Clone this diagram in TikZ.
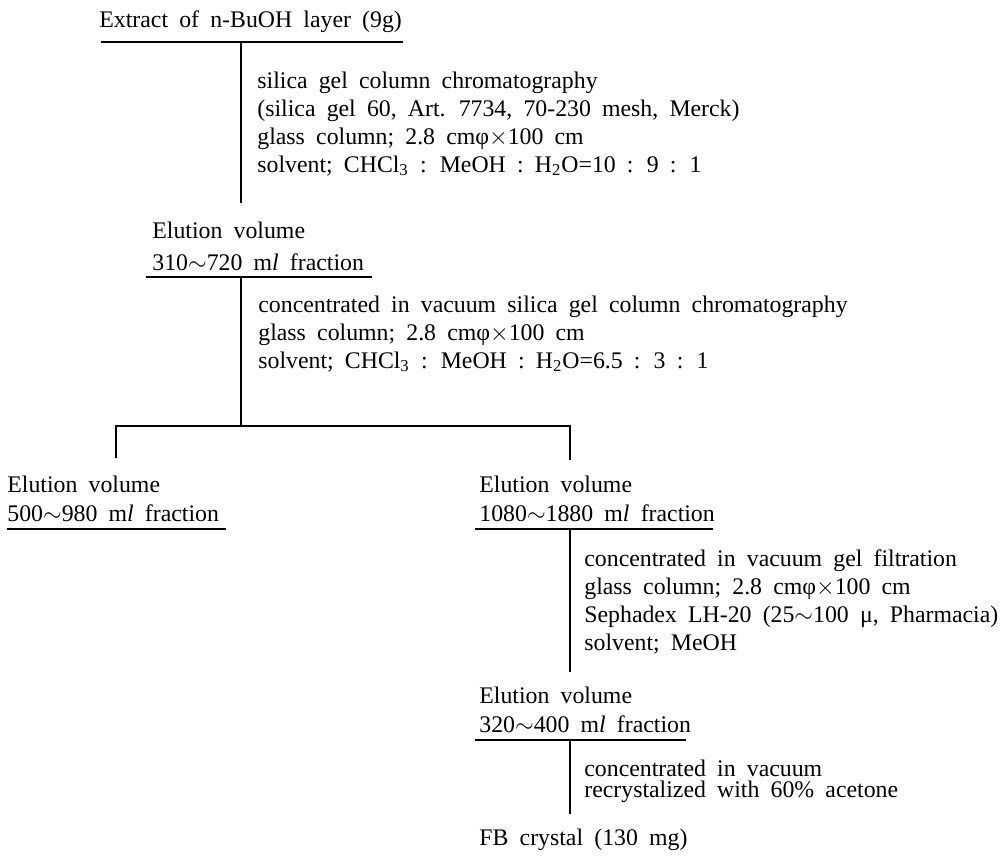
\documentclass[tikz,border=0pt]{standalone}
\usepackage{fontspec}
\setmainfont{Liberation Serif}[WordSpace={1.88,1,1}]
\usetikzlibrary{positioning}

\begin{document}
\begin{tikzpicture}[x=0.5pt, y=-0.5pt,
  txt/.style={anchor=base west, inner sep=0pt, align=left,
              font=\fontsize{11.9}{14}\selectfont},
  tighttxt/.style={txt, font=\fontsize{11.9}{10.5}\selectfont},
  ln/.style={line width=0.7pt, black},
]
\useasboundingbox (0,0) rectangle (1002,857);

% Start (multi-line nodes sit on their last baseline)
\node[txt] at (99,27)   (extract) {Extract of n-BuOH layer (9g)};
\node[txt] at (257,172) (silica1) {silica gel column chromatography\\
  (silica gel 60, Art. 7734, 70-230 mesh, Merck)\\
  glass column; 2.8 cmφ$\times$100 cm\\
  solvent; CHCl\textsubscript{3} : MeOH : H\textsubscript{2}O=10 : 9 : 1};

% First fraction
\node[txt] at (152,238) (elu1)  {Elution volume};
\node[txt] at (152,270) (frac1) {310$\sim$720 m\textit{l} fraction};
\node[txt] at (258,368) (silica2) {concentrated in vacuum silica gel column chromatography\\
  glass column; 2.8 cmφ$\times$100 cm\\
  solvent; CHCl\textsubscript{3} : MeOH : H\textsubscript{2}O=6.5 : 3 : 1};

% Two fractions
\node[txt] at (7,492)   (elu2)  {Elution volume};
\node[txt] at (7,521)   (frac2) {500$\sim$980 m\textit{l} fraction};
\node[txt] at (479,492) (elu3)  {Elution volume};
\node[txt] at (479,521) (frac3) {1080$\sim$1880 m\textit{l} fraction};
\node[txt] at (584,650) (gelf)  {concentrated in vacuum gel filtration\\
  glass column; 2.8 cmφ$\times$100 cm\\
  Sephadex LH-20 (25$\sim$100 μ, Pharmacia)\\
  solvent; MeOH};

% Last fraction and crystal
\node[txt] at (479,703) (elu4)  {Elution volume};
\node[txt] at (479,732) (frac4) {320$\sim$400 m\textit{l} fraction};
\node[tighttxt] at (584,797) (recr) {concentrated in vacuum\\
  recrystalized with 60\% acetone};
\node[txt] at (479,845) (crystal) {FB crystal (130 mg)};

% Junction points
\coordinate (u1l) at (101,42);  \coordinate (u1r) at (403,42);
\coordinate (t1)  at (241,42);  \coordinate (b1)  at (241,203);
\coordinate (u2l) at (146,277); \coordinate (u2r) at (372,277);
\coordinate (t2)  at (241,277); \coordinate (b2)  at (241,426);
\coordinate (brl) at (116,426); \coordinate (brr) at (570,426);
\coordinate (dl)  at (116,458); \coordinate (dr)  at (570,460);
\coordinate (u3l) at (7,529);   \coordinate (u3r) at (226,529);
\coordinate (u4l) at (475,529); \coordinate (u4r) at (713,529);
\coordinate (t3)  at (570,529); \coordinate (b3)  at (570,672);
\coordinate (u5l) at (475,740); \coordinate (u5r) at (686,740);
\coordinate (t4)  at (570,740); \coordinate (b4)  at (570,814);

% Lines
\draw[ln] (u1l) -- (u1r);
\draw[ln] (t1) -- (b1);
\draw[ln] (u2l) -- (u2r);
\draw[ln] (t2) -- (b2);
\draw[ln] (dl) -- (brl) -- (brr) -- (dr);
\draw[ln] (u3l) -- (u3r);
\draw[ln] (u4l) -- (u4r);
\draw[ln] (t3) -- (b3);
\draw[ln] (u5l) -- (u5r);
\draw[ln] (t4) -- (b4);

\end{tikzpicture}
\end{document}
